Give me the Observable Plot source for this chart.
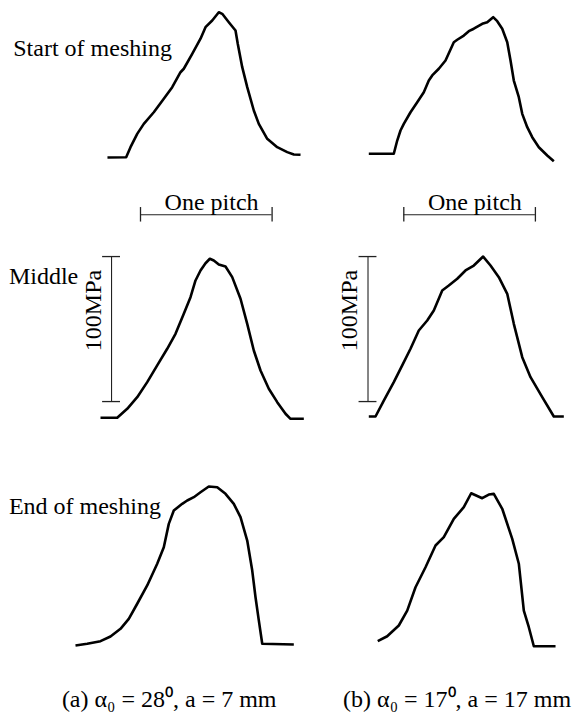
<!DOCTYPE html>
<html>
<head>
<meta charset="utf-8">
<script src="https://cdn.jsdelivr.net/npm/d3@7"></script>
<script src="https://cdn.jsdelivr.net/npm/@observablehq/plot@0.6"></script>
<style>
  html, body { margin: 0; padding: 0; background: #fff; }
  #chart svg { display: block; }
</style>
</head>
<body>
<div id="chart"></div>
<script>
// Stage labels (rows) and case captions (columns)
const stages = ["Start of meshing", "Middle", "End of meshing"];
const cases = ["(a) α₀ = 28⁰, a = 7 mm", "(b) α₀ = 17⁰, a = 17 mm"];

// Scale bar values
const onePitch = 1;        // pitch units
const stressBar = 100;     // MPa
const pitchLabel = "One pitch";
const stressLabel = "100MPa";

// Curves: [position (pitches), stress (MPa)]
const startA = [[-0.251,0],[-0.109,0.2],[-0.076,7.1],[-0.025,16.3],[0.025,23.2],[0.101,31.2],[0.177,40.5],[0.241,48.5],[0.304,58.8],[0.329,61.2],[0.393,71.5],[0.456,81.9],[0.494,89.9],[0.545,94.5],[0.595,100.2],[0.621,99.1],[0.671,93.3],[0.722,87.6],[0.739,78.4],[0.773,62.3],[0.811,48.5],[0.861,32.4],[0.899,23.2],[0.963,12.9],[1.039,7.1],[1.115,3.7],[1.165,2.1],[1.216,1.9]];
const startB = [[-0.266,2.6],[-0.076,2.6],[-0.050,11.7],[-0.025,18.6],[0,23.2],[0.051,31.2],[0.102,38.1],[0.152,45.0],[0.190,53.1],[0.216,56.6],[0.266,61.2],[0.317,66.9],[0.380,79.5],[0.406,81.2],[0.456,84.1],[0.494,87.1],[0.532,88.8],[0.596,92.2],[0.634,93.3],[0.679,96.8],[0.710,94.0],[0.748,88.8],[0.786,79.5],[0.811,66.9],[0.836,53.1],[0.874,41.6],[0.900,30.1],[0.938,20.9],[0.976,14.0],[1.026,7.1],[1.090,1.4],[1.140,-2.6]];
const middleA = [[-0.304,0],[-0.177,0],[-0.101,6.2],[-0.025,14.2],[0.051,24.6],[0.127,36.1],[0.203,47.6],[0.266,57.9],[0.329,71.7],[0.380,83.2],[0.418,94.7],[0.456,101.6],[0.494,106.6],[0.527,109.7],[0.557,108.5],[0.595,105.7],[0.646,104.3],[0.697,97.0],[0.760,82.1],[0.811,64.8],[0.861,46.4],[0.912,32.6],[0.975,20.0],[1.039,10.8],[1.102,2.8],[1.140,-0.7],[1.241,-0.7]];
const middleB = [[-0.266,0.9],[-0.215,0.9],[-0.152,11.9],[-0.076,24.6],[-0.012,36.1],[0.051,47.6],[0.114,60.2],[0.178,67.1],[0.228,74.0],[0.292,87.8],[0.342,91.2],[0.406,95.9],[0.469,101.6],[0.532,105.0],[0.603,111.2],[0.659,105.0],[0.722,97.0],[0.786,85.5],[0.836,64.8],[0.900,41.8],[0.963,28.0],[1.052,14.2],[1.140,0.9],[1.216,0.9]];
const endA = [[-0.494,-0.7],[-0.405,0.5],[-0.304,2.3],[-0.228,5.5],[-0.152,10.8],[-0.089,17.7],[-0.025,28.1],[0.051,40.7],[0.127,55.7],[0.177,67.1],[0.215,83.2],[0.253,92.4],[0.317,97.0],[0.355,99.3],[0.405,101.6],[0.456,105.0],[0.519,109.0],[0.583,108.5],[0.646,103.9],[0.709,97.0],[0.760,87.8],[0.811,71.7],[0.849,51.0],[0.874,32.6],[0.899,16.6],[0.925,0.5],[1.165,0]];
const endB = [[-0.198,2.3],[-0.126,5.7],[-0.038,13.1],[0.026,23.4],[0.089,39.5],[0.165,53.3],[0.241,68.3],[0.304,74.0],[0.380,86.7],[0.456,94.7],[0.512,104.3],[0.596,100.9],[0.646,103.4],[0.684,103.9],[0.748,93.6],[0.824,72.9],[0.874,55.7],[0.912,23.4],[0.950,11.9],[0.988,-1.2],[1.153,-1.2]];

const curves = [
  {row: 0, col: 0, pts: startA}, {row: 0, col: 1, pts: startB},
  {row: 1, col: 0, pts: middleA}, {row: 1, col: 1, pts: middleB},
  {row: 2, col: 0, pts: endA}, {row: 2, col: 1, pts: endB}
];

// ---- layout (pixels) ----
const W = 574, H = 720;
const pxPerPitch = 131.6, pxPerMPa = 1.45;
const originX = 140, originY = 417.3;
const colDx = [0, 263.3];
const rowDy = [-260.3, 0, 226.7];
const font = "Liberation Serif, Times New Roman, serif";

const marks = [];
for (const c of curves) {
  marks.push(Plot.line(c.pts, {
    x: d => d[0], y: d => d[1],
    dx: colDx[c.col], dy: rowDy[c.row],
    stroke: "#000", strokeWidth: 2.6, strokeLinejoin: "round", strokeLinecap: "butt"
  }));
}

// Row labels
const rowLabelPos = [[-0.967, 70.3], [-1.0, 92.4], [-1.0, 90.1]];
stages.forEach((s, i) => {
  marks.push(Plot.text([s], {
    x: rowLabelPos[i][0], y: rowLabelPos[i][1], text: d => d, dy: rowDy[i],
    textAnchor: "start", lineAnchor: "bottom",
    fontFamily: font, fontSize: 24, fill: "#000"
  }));
});

// Scale bars in the middle row
const barColor = "#222";
const stressX = [-0.22, -0.272];
const stressBase = 11.2;
const pitchY = 140;
[0, 1].forEach(col => {
  const dx = colDx[col];
  // one pitch bar
  marks.push(Plot.ruleY([pitchY], {x1: 0, x2: onePitch, dx, stroke: barColor, strokeWidth: 1.1}));
  marks.push(Plot.ruleX([0, onePitch], {x: d => d, y1: pitchY - 5, y2: pitchY + 5, dx, stroke: barColor, strokeWidth: 1.3}));
  marks.push(Plot.text([pitchLabel], {
    x: onePitch * 0.54, y: pitchY + 3.5, text: d => d, dx,
    textAnchor: "middle", lineAnchor: "bottom", fontFamily: font, fontSize: 24, fill: "#000"
  }));
  // 100 MPa bar
  const sx = stressX[col];
  marks.push(Plot.ruleX([sx], {y1: stressBase, y2: stressBase + stressBar, dx, stroke: barColor, strokeWidth: 1.1}));
  marks.push(Plot.ruleY([stressBase, stressBase + stressBar], {y: d => d, x1: sx - 0.068, x2: sx + 0.068, dx, stroke: barColor, strokeWidth: 1.3}));
  marks.push(Plot.text([stressLabel], {
    x: sx - 0.14, y: 74, text: d => d, dx, rotate: -90,
    textAnchor: "middle", lineAnchor: "middle", fontFamily: font, fontSize: 24, fill: "#000"
  }));
});

// Captions
const captionX = [0.218, 0.405];
cases.forEach((c, i) => {
  marks.push(Plot.text([c], {
    x: captionX[i], y: -43.2, text: d => d, dx: colDx[i], dy: rowDy[2],
    textAnchor: "middle", lineAnchor: "bottom", fontFamily: font, fontSize: 24, fill: "#000"
  }));
});

const chart = Plot.plot({
  width: W, height: H,
  margin: 0,
  x: {domain: [-originX / pxPerPitch, (W - originX) / pxPerPitch], range: [0, W], axis: null},
  y: {domain: [(originY - H) / pxPerMPa, originY / pxPerMPa], range: [H, 0], axis: null},
  style: {background: "#fff", overflow: "visible"},
  marks
});
document.getElementById("chart").appendChild(chart);
</script>
</body>
</html>
